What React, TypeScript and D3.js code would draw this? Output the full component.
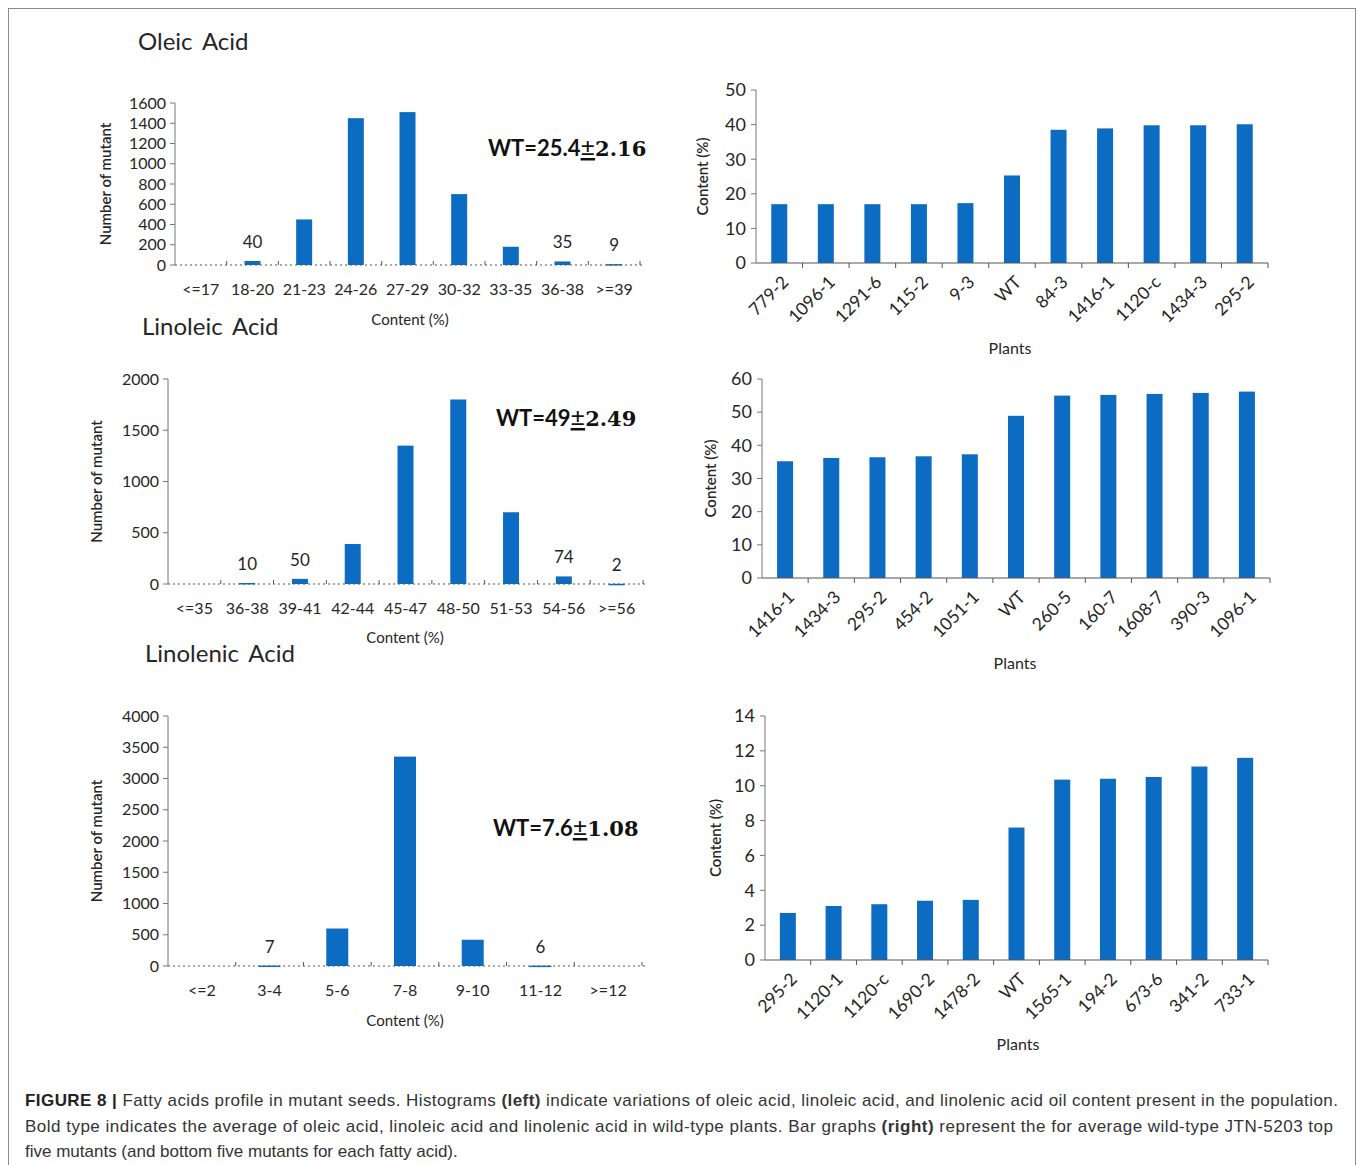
import React, { useRef, useEffect } from 'react'
import * as d3 from 'd3'

// histogram bins (left column)
const oleicBins = ['<=17', '18-20', '21-23', '24-26', '27-29', '30-32', '33-35', '36-38', '>=39']
const oleicCounts = [0, 40, 450, 1450, 1510, 700, 180, 35, 9]

const linoleicBins = ['<=35', '36-38', '39-41', '42-44', '45-47', '48-50', '51-53', '54-56', '>=56']
const linoleicCounts = [0, 10, 50, 390, 1350, 1800, 700, 74, 2]

const linolenicBins = ['<=2', '3-4', '5-6', '7-8', '9-10', '11-12', '>=12']
const linolenicCounts = [0, 7, 600, 3350, 420, 6, 0]

// plant bar graphs (right column)
const oleicPlants = ['779-2', '1096-1', '1291-6', '115-2', '9-3', 'WT', '84-3', '1416-1', '1120-c', '1434-3', '295-2']
const oleicContent = [17.0, 17.0, 17.0, 17.0, 17.3, 25.3, 38.5, 38.9, 39.8, 39.8, 40.1]

const linoleicPlants = ['1416-1', '1434-3', '295-2', '454-2', '1051-1', 'WT', '260-5', '160-7', '1608-7', '390-3', '1096-1']
const linoleicContent = [35.2, 36.2, 36.4, 36.7, 37.3, 48.9, 55.0, 55.2, 55.5, 55.8, 56.2]

const linolenicPlants = ['295-2', '1120-1', '1120-c', '1690-2', '1478-2', 'WT', '1565-1', '194-2', '673-6', '341-2', '733-1']
const linolenicContent = [2.7, 3.1, 3.2, 3.4, 3.45, 7.6, 10.35, 10.4, 10.5, 11.1, 11.6]

const BLUE = '#0b6cc2'
const INK = '#262626'
const FONT = 'Lato, "Open Sans", sans-serif'

type Sel = d3.Selection<SVGGElement, unknown, null, undefined>

function drawHist(g: Sel, o: {
  bins: string[]; counts: number[]; left: number; right: number; y0: number; yTop: number
  max: number; step: number; barW: number; title: string; titleX: number; titleY: number
  yLabelX: number; wt: [string, string]; wtX: number; wtY: number; xLabelX: number; xLabelY: number
}) {
  const x = d3.scaleBand<string>().domain(o.bins).range([o.left, o.right])
  const y = d3.scaleLinear().domain([0, o.max]).range([o.y0, o.yTop])

  // y axis
  g.append('line').attr('x1', o.left).attr('x2', o.left).attr('y1', o.y0).attr('y2', o.yTop)
    .attr('stroke', '#777').attr('stroke-width', 1)
  d3.range(0, o.max + 1, o.step).forEach(v => {
    g.append('line').attr('x1', o.left - 5).attr('x2', o.left).attr('y1', y(v)).attr('y2', y(v))
      .attr('stroke', '#777')
    g.append('text').attr('x', o.left - 9).attr('y', y(v)).attr('dy', '0.35em')
      .attr('text-anchor', 'end').attr('font-size', 16).attr('fill', INK).text(v)
  })

  // bars
  o.bins.forEach((b, i) => {
    const c = o.counts[i]
    const cx = x(b)! + x.bandwidth() / 2
    if (c > 0) {
      g.append('rect').attr('x', cx - o.barW / 2).attr('y', y(c)).attr('width', o.barW)
        .attr('height', Math.max(1.5, o.y0 - y(c))).attr('fill', BLUE)
    }
    if (c > 0 && c < 100) {
      g.append('text').attr('x', cx).attr('y', y(c) - 13).attr('text-anchor', 'middle')
        .attr('font-size', 17).attr('fill', INK).text(c)
    }
    g.append('text').attr('x', cx).attr('y', o.y0 + 30).attr('text-anchor', 'middle')
      .attr('font-size', 16).attr('fill', INK).text(b)
  })

  // dotted x axis + small boundary ticks
  g.append('line').attr('x1', o.left).attr('x2', o.right + 3).attr('y1', o.y0).attr('y2', o.y0)
    .attr('stroke', '#555').attr('stroke-width', 1.2).attr('stroke-dasharray', '2,3')
  o.bins.forEach((b, i) => {
    if (i === 0) return
    g.append('line').attr('x1', x(b)!).attr('x2', x(b)!).attr('y1', o.y0 - 4).attr('y2', o.y0)
      .attr('stroke', '#555')
  })
  g.append('line').attr('x1', o.right).attr('x2', o.right).attr('y1', o.y0 - 4).attr('y2', o.y0)
    .attr('stroke', '#555')

  // titles
  g.append('text').attr('x', o.titleX).attr('y', o.titleY).attr('font-size', 24)
    .attr('word-spacing', 4).attr('fill', INK).text(o.title)
  const cy = (o.y0 + o.yTop) / 2
  g.append('text').attr('transform', `translate(${o.yLabelX},${cy}) rotate(-90)`)
    .attr('text-anchor', 'middle').attr('font-size', 15).attr('font-weight', 600)
    .attr('fill', INK).text('Number of mutant')
  g.append('text').attr('x', o.xLabelX).attr('y', o.xLabelY).attr('text-anchor', 'middle')
    .attr('font-size', 15).attr('fill', INK).text('Content (%)')

  const wt = g.append('text').attr('x', o.wtX).attr('y', o.wtY).attr('font-size', 22)
    .attr('font-weight', 'bold').attr('fill', '#111')
  wt.append('tspan').text(o.wt[0])
  wt.append('tspan').attr('font-weight', 'normal').attr('font-size', 25)
    .attr('text-decoration', 'underline').text('±')
  wt.append('tspan').attr('font-family', '"DejaVu Serif", serif').attr('font-size', 21).text(o.wt[1])
}

function drawPlants(g: Sel, o: {
  plants: string[]; values: number[]; left: number; right: number; y0: number; yTop: number
  max: number; step: number; yLabelX: number; plantsX: number; plantsY: number
}) {
  const x = d3.scaleBand<string>().domain(o.plants.map((p, i) => `${i}`)).range([o.left, o.right])
  const y = d3.scaleLinear().domain([0, o.max]).range([o.y0, o.yTop])

  g.append('line').attr('x1', o.left).attr('x2', o.left).attr('y1', o.y0).attr('y2', o.yTop)
    .attr('stroke', '#777')
  d3.range(0, o.max + 0.001, o.step).forEach(v => {
    g.append('line').attr('x1', o.left - 5).attr('x2', o.left).attr('y1', y(v)).attr('y2', y(v))
      .attr('stroke', '#777')
    g.append('text').attr('x', o.left - 10).attr('y', y(v)).attr('dy', '0.35em')
      .attr('text-anchor', 'end').attr('font-size', 18).attr('fill', INK).text(v)
  })

  o.values.forEach((v, i) => {
    const cx = x(`${i}`)! + x.bandwidth() / 2
    g.append('rect').attr('x', cx - 8).attr('y', y(v)).attr('width', 16)
      .attr('height', o.y0 - y(v)).attr('fill', BLUE)
    g.append('text').attr('transform', `translate(${cx + 6},${o.y0 + 16}) rotate(-45)`)
      .attr('text-anchor', 'end').attr('dy', '0.35em').attr('font-size', 17.5).attr('fill', INK)
      .text(o.plants[i])
  })

  g.append('line').attr('x1', o.left).attr('x2', o.right).attr('y1', o.y0).attr('y2', o.y0)
    .attr('stroke', '#555').attr('stroke-width', 1.2)
  d3.range(1, o.plants.length + 1).forEach(i => {
    const tx = o.left + i * x.step()
    g.append('line').attr('x1', tx).attr('x2', tx).attr('y1', o.y0).attr('y2', o.y0 + 5)
      .attr('stroke', '#555')
  })

  const cy = (o.y0 + o.yTop) / 2
  g.append('text').attr('transform', `translate(${o.yLabelX},${cy}) rotate(-90)`)
    .attr('text-anchor', 'middle').attr('font-size', 15).attr('font-weight', 600)
    .attr('fill', INK).text('Content (%)')
  g.append('text').attr('x', o.plantsX).attr('y', o.plantsY).attr('text-anchor', 'middle')
    .attr('font-size', 16).attr('fill', INK).text('Plants')
}

const App: React.FC = () => {
  const svgRef = useRef<SVGSVGElement>(null)

  useEffect(() => {
    if (!svgRef.current) return
    const svg = d3.select(svgRef.current)
    svg.selectAll('*').remove()

    svg.append('rect').attr('x', 0).attr('y', 0).attr('width', 1358).attr('height', 1165).attr('fill', '#fff')
    svg.append('rect').attr('x', 8.5).attr('y', 8.5).attr('width', 1347).attr('height', 1170)
      .attr('fill', 'none').attr('stroke', '#8a8a8a').attr('stroke-width', 1)

    const g = svg.append('g').attr('font-family', FONT) as unknown as Sel

    drawHist(g, {
      bins: oleicBins, counts: oleicCounts, left: 175, right: 640, y0: 265, yTop: 103,
      max: 1600, step: 200, barW: 16, title: 'Oleic Acid', titleX: 138, titleY: 50,
      yLabelX: 111, wt: ['WT=25.4', '2.16'], wtX: 488, wtY: 156, xLabelX: 410, xLabelY: 325
    })
    drawHist(g, {
      bins: linoleicBins, counts: linoleicCounts, left: 168, right: 643, y0: 584, yTop: 379,
      max: 2000, step: 500, barW: 16, title: 'Linoleic Acid', titleX: 142, titleY: 335,
      yLabelX: 102, wt: ['WT=49', '2.49'], wtX: 496, wtY: 426, xLabelX: 405, xLabelY: 643
    })
    drawHist(g, {
      bins: linolenicBins, counts: linolenicCounts, left: 168, right: 642, y0: 966, yTop: 716,
      max: 4000, step: 500, barW: 22, title: 'Linolenic Acid', titleX: 145, titleY: 662,
      yLabelX: 102, wt: ['WT=7.6', '1.08'], wtX: 493, wtY: 836, xLabelX: 405, xLabelY: 1026
    })

    drawPlants(g, {
      plants: oleicPlants, values: oleicContent, left: 756, right: 1268, y0: 263, yTop: 90,
      max: 50, step: 10, yLabelX: 708, plantsX: 1010, plantsY: 354
    })
    drawPlants(g, {
      plants: linoleicPlants, values: linoleicContent, left: 762, right: 1270, y0: 578, yTop: 379,
      max: 60, step: 10, yLabelX: 716, plantsX: 1015, plantsY: 669
    })
    drawPlants(g, {
      plants: linolenicPlants, values: linolenicContent, left: 765, right: 1268, y0: 960, yTop: 716,
      max: 14, step: 2, yLabelX: 721, plantsX: 1018, plantsY: 1050
    })

    // caption
    const cap = svg.append('g').attr('font-family', '"Liberation Sans", Arial, sans-serif')
      .attr('font-size', 17).attr('fill', '#333')
    const l1 = cap.append('text').attr('x', 25).attr('y', 1106)
      .attr('textLength', 1313).attr('lengthAdjust', 'spacing')
    l1.append('tspan').attr('font-weight', 'bold').attr('fill', '#222').text('FIGURE 8 | ')
    l1.append('tspan').text('Fatty acids profile in mutant seeds. Histograms ')
    l1.append('tspan').attr('font-weight', 'bold').text('(left)')
    l1.append('tspan').text(' indicate variations of oleic acid, linoleic acid, and linolenic acid oil content present in the population.')
    const l2 = cap.append('text').attr('x', 25).attr('y', 1132)
      .attr('textLength', 1308).attr('lengthAdjust', 'spacing')
    l2.append('tspan').text('Bold type indicates the average of oleic acid, linoleic acid and linolenic acid in wild-type plants. Bar graphs ')
    l2.append('tspan').attr('font-weight', 'bold').text('(right)')
    l2.append('tspan').text(' represent the for average wild-type JTN-5203 top')
    cap.append('text').attr('x', 25).attr('y', 1157)
      .text('five mutants (and bottom five mutants for each fatty acid).')
  }, [])

  return (
    <svg ref={svgRef} width={1358} height={1165}
      style={{ position: 'absolute', left: 0, top: 0, display: 'block' }} />
  )
}

export default App
